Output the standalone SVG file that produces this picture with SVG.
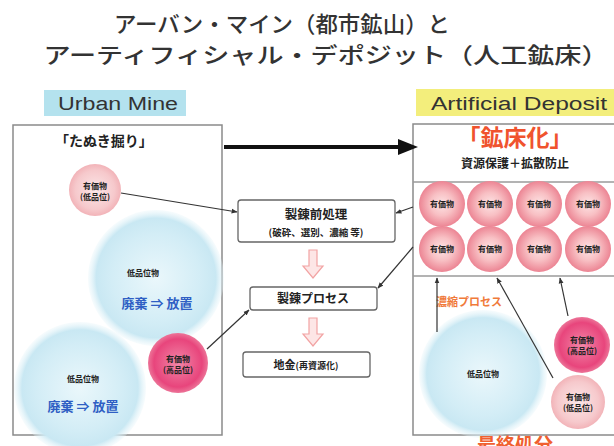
<svg xmlns="http://www.w3.org/2000/svg" width="614" height="446" viewBox="0 0 614 446">
<defs>
<style>
.jp{font-family:"Noto Sans CJK JP","Noto Sans",sans-serif}
.title{font-size:22px;fill:#333;font-weight:500}
.box{fill:#fff;stroke:#666;stroke-width:1.3}
.frame{fill:none;stroke:#8a8a8a;stroke-width:1.5}
.conn{stroke:#333;stroke-width:1.2;fill:none}
.small{font-size:8px;font-weight:700;fill:#222}
.blue{font-size:13px;font-weight:700;fill:#2f5fc4}
.pa{fill:#fde6e6;stroke:#f2a3a3;stroke-width:1.2}
.lbl{font-family:"Liberation Sans",Arial,sans-serif;font-size:18px;fill:#333}
</style>
<radialGradient id="gBlue">
<stop offset="0" stop-color="#eaf7fb"/>
<stop offset="0.65" stop-color="#d3edf6"/>
<stop offset="0.88" stop-color="#c9e8f3"/>
<stop offset="1" stop-color="#e4f4f9" stop-opacity="0.3"/>
</radialGradient>
<radialGradient id="gPinkL">
<stop offset="0" stop-color="#fbe6e7"/>
<stop offset="0.75" stop-color="#f6c9cc"/>
<stop offset="1" stop-color="#f2b3b8"/>
</radialGradient>
<radialGradient id="gPinkG">
<stop offset="0" stop-color="#fde4e5"/>
<stop offset="0.5" stop-color="#f8c0c4"/>
<stop offset="1" stop-color="#ec8493"/>
</radialGradient>
<radialGradient id="gHot">
<stop offset="0" stop-color="#f287a8"/>
<stop offset="0.8" stop-color="#e8457c"/>
<stop offset="1" stop-color="#ec7498"/>
</radialGradient>
<marker id="ah" viewBox="0 0 10 10" refX="9" refY="5" markerWidth="5" markerHeight="5" orient="auto">
<path d="M0,1 L10,5 L0,9 z" fill="#333"/>
</marker>
<g id="gridc">
<circle r="23" fill="url(#gPinkG)"/>
<text class="jp small" text-anchor="middle" y="3" font-size="8.5">有価物</text>
</g>
</defs>
<rect width="614" height="446" fill="#fff"/>

<g id="title" class="jp title">
<text x="282" y="32" text-anchor="middle" textLength="336" lengthAdjust="spacingAndGlyphs">アーバン・マイン（都市鉱山）と</text>
<text x="326" y="63" text-anchor="middle" textLength="565" lengthAdjust="spacingAndGlyphs">アーティフィシャル・デポジット（人工鉱床）</text>
</g>

<g id="urban-label">
<rect x="44" y="90" width="142" height="26" fill="#b4e2ee"/>
<text class="lbl" x="118" y="110" text-anchor="middle" textLength="120" lengthAdjust="spacingAndGlyphs">Urban Mine</text>
</g>
<g id="artificial-label">
<rect x="416" y="89" width="198" height="27" fill="#f3ee7c"/>
<text class="lbl" x="519" y="110" text-anchor="middle" textLength="176" lengthAdjust="spacingAndGlyphs">Artificial Deposit</text>
</g>

<g id="urban-mine">
<rect class="frame" x="13" y="125" width="209" height="310"/>
<text class="jp" x="55" y="146" font-size="14" font-weight="700" fill="#222">「たぬき掘り」</text>
</g>

<g id="blue-left-1">
<circle cx="156" cy="278" r="68" fill="url(#gBlue)"/>
<text class="jp small" x="143" y="276" text-anchor="middle" font-size="9">低品位物</text>
<text class="jp blue" x="157" y="308" text-anchor="middle">廃棄 ⇒ 放置</text>
</g>
<g id="blue-left-2">
<circle cx="80" cy="388" r="66" fill="url(#gBlue)"/>
<text class="jp small" x="83" y="382" text-anchor="middle" font-size="9">低品位物</text>
<text class="jp blue" x="83" y="411" text-anchor="middle">廃棄 ⇒ 放置</text>
</g>
<g id="pink-left-low">
<circle cx="95" cy="190" r="26" fill="url(#gPinkL)"/>
<text class="jp small" x="95" y="189" text-anchor="middle">有価物</text>
<text class="jp small" x="95" y="200" text-anchor="middle">(低品位)</text>
</g>
<g id="pink-left-high">
<circle cx="178" cy="363" r="30" fill="url(#gHot)"/>
<text class="jp small" x="178" y="362" text-anchor="middle">有価物</text>
<text class="jp small" x="178" y="373" text-anchor="middle">(高品位)</text>
</g>

<g id="artificial-deposit">
<rect class="frame" x="413" y="124" width="205" height="311"/>
<line x1="413" y1="182" x2="614" y2="182" stroke="#9a9a9a" stroke-width="1.5"/>
<line x1="413" y1="276" x2="614" y2="276" stroke="#9a9a9a" stroke-width="1.5"/>
<text class="jp" x="515" y="146" text-anchor="middle" font-size="23" font-weight="700" fill="#f0532e">「鉱床化」</text>
<text class="jp" x="515" y="168" text-anchor="middle" font-size="12" font-weight="700" fill="#222">資源保護＋拡散防止</text>
</g>

<g id="grid">
<use href="#gridc" x="442" y="204"/>
<use href="#gridc" x="490" y="204"/>
<use href="#gridc" x="539" y="204"/>
<use href="#gridc" x="588" y="204"/>
<use href="#gridc" x="442" y="249"/>
<use href="#gridc" x="490" y="249"/>
<use href="#gridc" x="539" y="249"/>
<use href="#gridc" x="588" y="249"/>
</g>

<g id="blue-right">
<circle cx="483" cy="374" r="64" fill="url(#gBlue)"/>
<text class="jp small" x="483" y="377" text-anchor="middle" font-size="9">低品位物</text>
</g>
<g id="pink-right-high">
<circle cx="582" cy="345" r="28" fill="url(#gHot)"/>
<text class="jp small" x="582" y="343" text-anchor="middle">有価物</text>
<text class="jp small" x="582" y="354" text-anchor="middle">(高品位)</text>
</g>
<g id="pink-right-low">
<circle cx="578" cy="402" r="27" fill="url(#gPinkL)"/>
<text class="jp small" x="578" y="400" text-anchor="middle">有価物</text>
<text class="jp small" x="578" y="411" text-anchor="middle">(低品位)</text>
</g>
<text class="jp" x="436" y="306" font-size="11" font-weight="700" fill="#f07a3a">濃縮プロセス</text>
<text class="jp" x="515" y="452" text-anchor="middle" font-size="19" font-weight="700" fill="#f06030">最終処分</text>

<g id="pretreat">
<rect class="box" x="238" y="200" width="157" height="42" rx="3"/>
<text class="jp" x="316" y="219" text-anchor="middle" font-size="12.5" font-weight="700" fill="#222">製錬前処理</text>
<text class="jp" x="316" y="236" text-anchor="middle" font-size="9.5" font-weight="700" fill="#222">(破砕、選別、濃縮 等)</text>
</g>
<g id="smelting">
<rect class="box" x="250" y="287" width="127" height="23" rx="3"/>
<text class="jp" x="313" y="303" text-anchor="middle" font-size="12" font-weight="700" fill="#222">製錬プロセス</text>
</g>
<g id="metal">
<rect class="box" x="243" y="352" width="127" height="25" rx="3"/>
<text class="jp" x="306" y="369" text-anchor="middle" font-size="11" font-weight="700" fill="#222">地金<tspan font-size="9">(再資源化)</tspan></text>
</g>

<g id="connectors">
<line x1="224" y1="147" x2="400" y2="147" stroke="#111" stroke-width="4"/>
<path d="M398,139 L418,147 L398,155 z" fill="#111"/>
<line class="conn" x1="121" y1="193" x2="237" y2="212" marker-end="url(#ah)"/>
<line class="conn" x1="413" y1="207" x2="396" y2="213" marker-end="url(#ah)"/>
<line class="conn" x1="413" y1="247" x2="378" y2="288" marker-end="url(#ah)"/>
<line class="conn" x1="207" y1="349" x2="249" y2="310" marker-end="url(#ah)"/>
<line class="conn" x1="437" y1="332" x2="437" y2="278" marker-end="url(#ah)"/>
<line class="conn" x1="553" y1="378" x2="497" y2="278" marker-end="url(#ah)"/>
<line class="conn" x1="568" y1="316" x2="560" y2="278" marker-end="url(#ah)"/>
<path class="pa" d="M309,250 L317,250 L317,266 L323,266 L313,278 L303,266 L309,266 z"/>
<path class="pa" d="M309,318 L317,318 L317,334 L323,334 L313,346 L303,334 L309,334 z"/>
</g>
</svg>
